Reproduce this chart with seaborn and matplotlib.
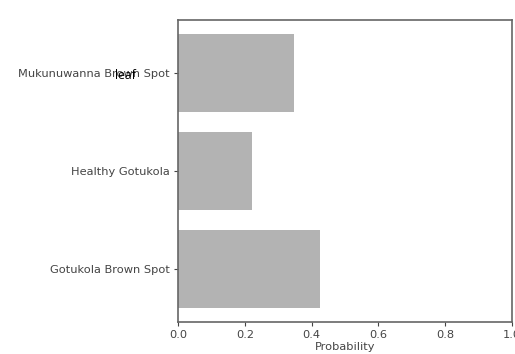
import seaborn as sns
import matplotlib.pyplot as plt
import pandas as pd

classes = ["Mukunuwanna Brown Spot", "Healthy Gotukola", "Gotukola Brown Spot"]
probs = [0.348, 0.222, 0.426]


def main():
    df = pd.DataFrame({"Class": classes, "Probability": probs})

    fig = plt.figure(figsize=(5.15, 3.54), dpi=100)
    ax = fig.add_axes([0.3456, 0.0904, 0.6484, 0.8531])
    sns.barplot(data=df, x="Probability", y="Class", orient="h",
                color="#b3b3b3", saturation=1, width=0.8, ax=ax)

    ax.set_xlim(0, 1.0)
    ax.set_ylim(2.54, -0.54)
    ax.set_xticks([0.0, 0.2, 0.4, 0.6, 0.8, 1.0])
    ax.set_xlabel("Probability", fontsize=8.2, color="#444444", labelpad=1)
    ax.set_ylabel("")
    ax.tick_params(labelsize=8.2, colors="#444444", length=3, pad=3)
    for s in ax.spines.values():
        s.set_color("#666666")
        s.set_linewidth(1.2)

    # stray overlay text in the original
    fig.text(0.223, 0.788, "leaf", fontsize=8.8, color="black",
             family="Open Sans", va="center")

    fig.savefig("out.png", dpi=100)


main()
